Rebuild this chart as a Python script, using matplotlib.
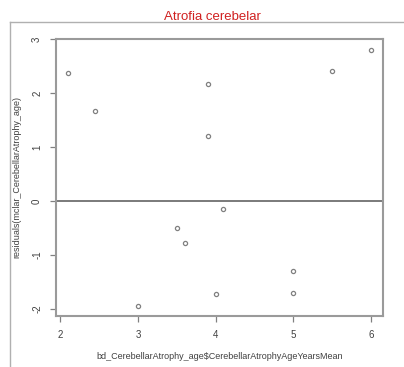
import matplotlib
matplotlib.use("Agg")
import matplotlib.pyplot as plt
from matplotlib.lines import Line2D

plt.rcParams['font.family'] = ['Liberation Sans', 'DejaVu Sans']

age_years_mean = [2.1, 2.45, 3.0, 3.5, 3.6, 3.9, 3.9, 4.0, 4.1, 5.0, 5.0, 5.5, 6.0]
residual_vals = [2.38, 1.67, -1.94, -0.49, -0.78, 2.17, 1.20, -1.73, -0.15, -1.30, -1.71, 2.41, 2.81]
x_ticks = [2, 3, 4, 5, 6]
y_ticks = [-2, -1, 0, 1, 2, 3]

fig = plt.figure(figsize=(4.04, 3.67), dpi=100)
ax = fig.add_axes([56/404, 1-316/367, (383-56)/404, (316-39)/367])

ax.plot(age_years_mean, residual_vals, linestyle='none', marker='o',
        markersize=3.0, markerfacecolor='none', markeredgecolor='#808080',
        markeredgewidth=0.9)
ax.axhline(0, color='#707070', linewidth=1.3)

# R-style 4% padding on both axes
xr = max(age_years_mean) - min(age_years_mean)
yr = max(residual_vals) - min(residual_vals)
ax.set_xlim(min(age_years_mean) - 0.04*xr, max(age_years_mean) + 0.04*xr)
ax.set_ylim(min(residual_vals) - 0.04*yr, max(residual_vals) + 0.04*yr + 0.005)

ax.set_xticks(x_ticks)
ax.set_yticks(y_ticks)
ax.set_xticklabels([str(v) for v in x_ticks], fontsize=7, color='#404040')
ax.set_yticklabels([str(v) for v in y_ticks], fontsize=7, color='#404040',
                   rotation=90, va='center')
ax.tick_params(axis='both', length=4, width=0.9, color='#808080', pad=6)

for sp in ax.spines.values():
    sp.set_color('#9a9a9a')
    sp.set_linewidth(1.5)

ax.set_xlabel('bd_CerebellarAtrophy_age$CerebellarAtrophyAgeYearsMean',
              fontsize=6.5, color='#404040', labelpad=9)
ax.set_ylabel('residuals(mclar_CerebellarAtrophy_age)', fontsize=6.5,
              color='#404040', labelpad=8)

fig.text(212/404, 1-17/367, 'Atrofia cerebelar', color='#d02020',
         fontsize=9.5, ha='center', va='center')

# outer frame edges
fig.add_artist(Line2D([9.5/404, 1.0], [1-22/367, 1-22/367],
                      transform=fig.transFigure, color='#b0b0b0', linewidth=1.0))
fig.add_artist(Line2D([9.5/404, 9.5/404], [0.0, 1-22/367],
                      transform=fig.transFigure, color='#b0b0b0', linewidth=1.0))

fig.savefig('out.png', dpi=100, facecolor='white')
